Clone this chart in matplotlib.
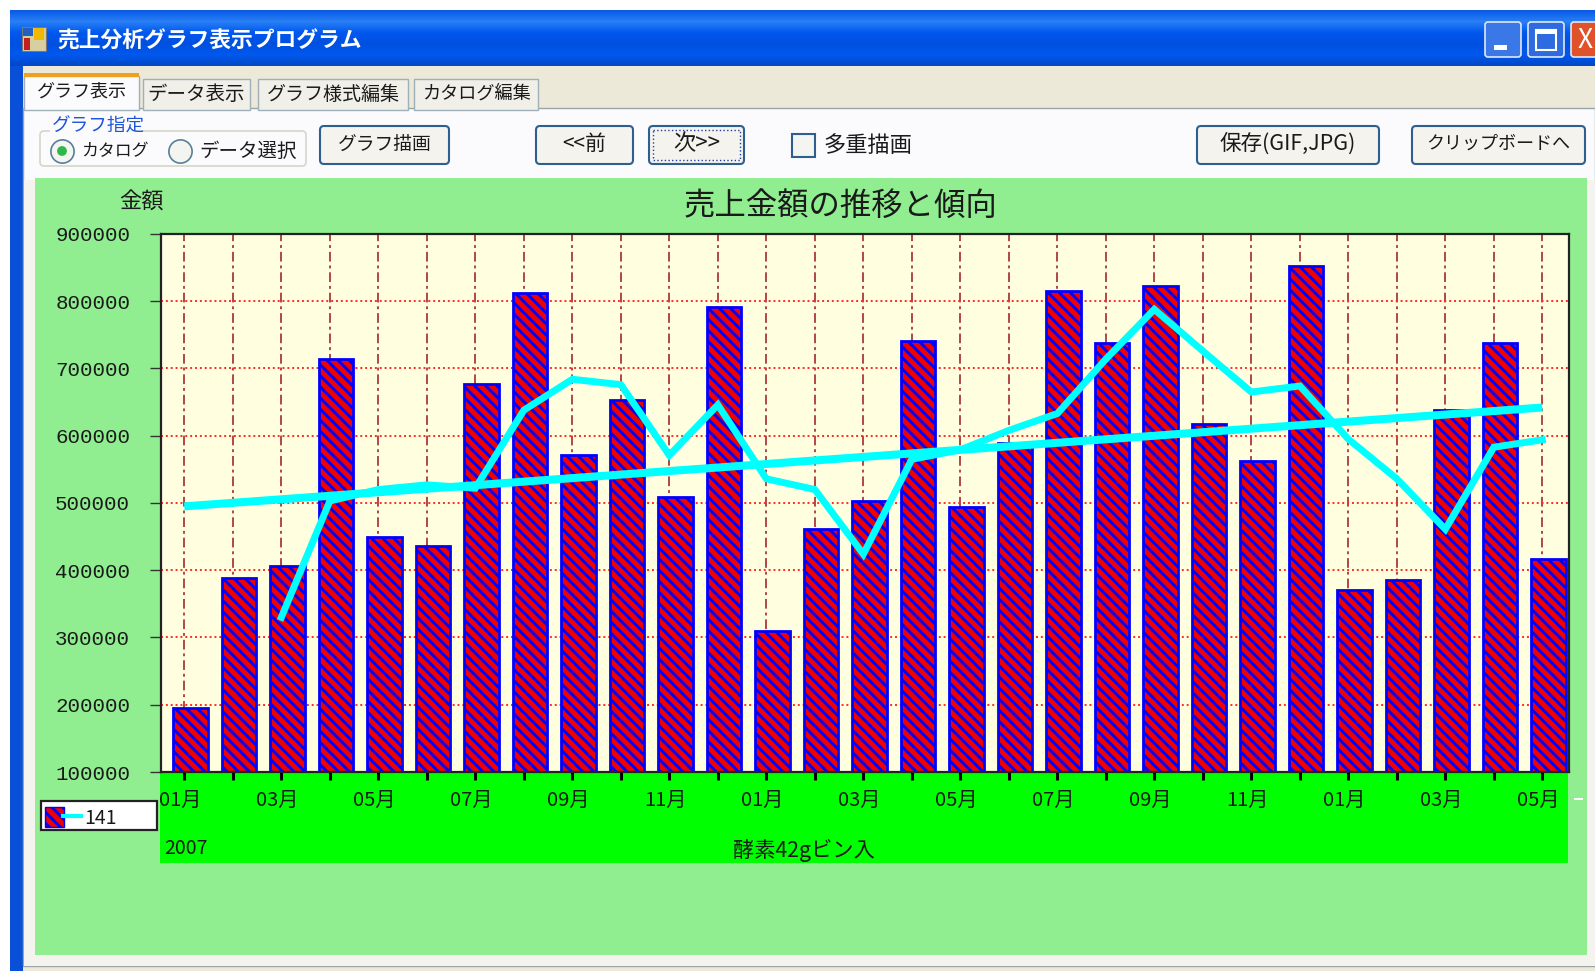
#!/usr/bin/env python3
"""Sales analysis window: monthly bars with moving average and trend line."""

import matplotlib

matplotlib.use("Agg")

import matplotlib.pyplot as plt
from matplotlib.colors import LinearSegmentedColormap
from matplotlib.patches import FancyBboxPatch, Rectangle
from matplotlib.transforms import ScaledTranslation
import numpy as np

plt.rcParams["font.family"] = ["Noto Sans CJK JP", "DejaVu Sans"]
plt.rcParams["hatch.linewidth"] = 2.1

MONTHS = list(range(29))
SALES = [
    195000, 388000, 406000, 714000, 450000, 436000, 677000, 812000, 571000, 653000,
    509000, 791000, 309000, 461000, 503000, 741000, 494000, 589000, 815000, 738000,
    823000, 618000, 562000, 853000, 370000, 385000, 638000, 738000, 417000,
]
AVG_MONTHS = MONTHS[2:]
MOVING_AVG = [
    330000, 503000, 520000, 527000, 522000, 638000, 684000, 676000, 571000, 646000,
    536000, 520000, 424000, 565000, 579000, 608000, 633000, 714000, 788000, 726000,
    665000, 674000, 595000, 536000, 461000, 583000, 594000,
]
TREND_X = [0, 28]
TREND_Y = [495000, 642000]
Y_TICKS = [100000, 200000, 300000, 400000, 500000, 600000, 700000, 800000, 900000]
MONTH_LABELS = ["01月", "03月", "05月", "07月", "09月", "11月", "01月", "03月", "05月", "07月",
                "09月", "11月", "01月", "03月", "05月"]
TABS = ["グラフ表示", "データ表示", "グラフ様式編集", "カタログ編集"]
TAB_SIZES = [13, 14, 13.7, 13.1]

W, H = 1595, 971
BAR_SHIFT = 0.128
BAR_HATCH = "\\\\\\"
TEXT = "#1a1a1a"


def px_axes(fig, left, top, right, bottom):
    return fig.add_axes([left / W, 1 - bottom / H, (right - left) / W, (bottom - top) / H])


def button(bg, x0, y0, x1, y1, label, size=13.5):
    bg.add_patch(FancyBboxPatch((x0 + 4, y0 + 4), x1 - x0 - 8, y1 - y0 - 8, boxstyle="round,pad=4",
                                fc="#f4f3ee", ec="#2f5f8f", lw=1.5))
    bg.text((x0 + x1) / 2, (y0 + y1) / 2 - 1, label, ha="center", va="center", fontsize=size, color=TEXT)


def draw_window(bg):
    # window frame and title bar
    cmap = LinearSegmentedColormap.from_list(
        "xp", ["#0a5ae6", "#2a80f5", "#0058ee", "#0050e0", "#0058ee", "#0048c8"])
    grad = np.linspace(0, 1, 56).reshape(-1, 1)
    bg.imshow(grad, cmap=cmap, extent=(10, W, 66, 10), aspect="auto", zorder=0)
    bg.set_xlim(0, W)
    bg.set_ylim(H, 0)
    bg.axis("off")

    bg.add_patch(Rectangle((10, 66), 13, H - 66, fc="#0a4fd8", ec="none"))
    bg.add_patch(Rectangle((23, 66), W - 23, H - 66, fc="#ece9d8", ec="none"))
    bg.add_patch(Rectangle((23, 108), W - 23, H - 108 - 5, fc="#fbfbfd", ec="#9aa5aa", lw=1))
    bg.add_patch(Rectangle((24, 180), W - 24, H - 185, fc="#f4f3ee", ec="none"))
    bg.add_patch(Rectangle((35, 178), 1552, 777, fc="#90ee90", ec="none", zorder=1))

    # title bar icon, text and window buttons
    bg.add_patch(Rectangle((22, 27), 24, 24, fc="#d8cfa0", ec="#777777", lw=0.8))
    bg.add_patch(Rectangle((23, 28), 10, 8, fc="#2060c0", ec="none"))
    bg.add_patch(Rectangle((34, 28), 10, 12, fc="#f0b800", ec="none"))
    bg.add_patch(Rectangle((24, 38), 6, 12, fc="#c02020", ec="none"))
    bg.text(57, 41, "売上分析グラフ表示プログラム", color="white", fontsize=15.7, weight="bold", va="center")
    for x0, col in [(1485, "#3a78e8"), (1528, "#2f6be0"), (1571, "#e0532a")]:
        bg.add_patch(FancyBboxPatch((x0 + 3, 25), 30, 29, boxstyle="round,pad=3", fc=col, ec="#dfe8f5", lw=1.2))
    bg.add_patch(Rectangle((1494, 45), 13, 5, fc="white", ec="none"))
    bg.add_patch(Rectangle((1536, 30), 20, 20, fc="none", ec="white", lw=1.5))
    bg.add_patch(Rectangle((1536, 30), 20, 4, fc="white", ec="none"))
    bg.text(1585, 41, "X", color="white", fontsize=19, ha="center", va="center")

    # tabs
    tab_edges = [(24, 139), (143, 250), (258, 408), (414, 538)]
    for i, (label, (x0, x1)) in enumerate(zip(TABS, tab_edges)):
        top = 76 if i == 0 else 79
        fc = "#fbfbfd" if i == 0 else "#f0efe8"
        bg.add_patch(Rectangle((x0, top), x1 - x0, 110 - top, fc=fc, ec="#9fb0bb", lw=1, zorder=2))
        bg.text((x0 + x1) / 2, 92 if i == 0 else 94, label, ha="center", va="center",
                fontsize=TAB_SIZES[i], color=TEXT, zorder=3)
    bg.add_patch(Rectangle((24, 73), 115, 4, fc="#f0a020", ec="none", zorder=3))

    # graph selection group
    bg.add_patch(FancyBboxPatch((44, 135), 258, 27, boxstyle="round,pad=4", fc="#fbfbfd", ec="#d5d5c8", lw=1.2))
    bg.add_patch(Rectangle((50, 120), 92, 14, fc="#fbfbfd", ec="none", zorder=2))
    bg.text(52, 127, "グラフ指定", color="#1f55d8", fontsize=13.4, va="center", zorder=3)
    for cx, on in [(62, True), (180, False)]:
        bg.scatter([cx], [151], s=280, fc="#f4f4f0", ec="#5a8098", lw=1.2, zorder=3)
        if on:
            bg.scatter([cx], [151], s=50, fc="#2fb84a", ec="none", zorder=4)
    bg.text(81, 151, "カタログ", fontsize=12.2, va="center", color=TEXT)
    bg.text(199, 151, "データ選択", fontsize=14, va="center", color=TEXT)

    button(bg, 320, 126, 449, 164, "グラフ描画")
    button(bg, 536, 126, 633, 164, "<<前", size=15)
    button(bg, 649, 126, 744, 164, "次>>", size=16)
    bg.add_patch(Rectangle((653, 130), 87, 30, fc="none", ec="#2040a0", lw=1, ls=":", zorder=3))
    bg.add_patch(Rectangle((792, 134), 23, 23, fc="#f4f4f0", ec="#2f5f8f", lw=1.5))
    bg.text(824, 145, "多重描画", fontsize=16, va="center", color=TEXT)
    button(bg, 1197, 126, 1379, 164, "保存(GIF,JPG)", size=15.5)
    button(bg, 1412, 126, 1585, 164, "クリップボードへ", size=13)

    # chart captions
    bg.add_patch(Rectangle((160, 772), 1408, 91, fc="#00ff00", ec="none", zorder=1))
    bg.add_patch(Rectangle((1574, 798), 9, 2, fc="white", ec="none", zorder=1))
    bg.text(841, 206, "売上金額の推移と傾向", fontsize=22.6, ha="center", va="center", color=TEXT, zorder=3)
    bg.text(141, 202, "金額", fontsize=16, ha="center", va="center", color=TEXT, zorder=3)
    bg.text(164, 848, "2007", fontsize=14, va="center", color=TEXT, zorder=3)
    bg.text(804, 850, "酵素42gビン入", fontsize=15.3, ha="center", va="center", color=TEXT, zorder=3)

    # legend
    bg.add_patch(Rectangle((41, 801), 116, 29, fc="white", ec="#222222", lw=1.6, zorder=3))
    bg.add_patch(Rectangle((45, 807), 19, 20, fc="#f00000", ec="#0000ff", hatch=BAR_HATCH, lw=1, zorder=4))
    bg.plot([63, 81], [816, 816], color="#00ffff", lw=3, zorder=4)
    bg.text(101, 818, "141", fontsize=14, ha="center", va="center", color=TEXT, zorder=4)


def draw_chart(ax):
    ax.set_facecolor("#ffffe0")
    ax.bar([m + BAR_SHIFT for m in MONTHS], SALES, width=0.72, color="#f00000", edgecolor="#0000ff",
           hatch=BAR_HATCH, linewidth=2, zorder=2)
    ax.plot(TREND_X, TREND_Y, color="#00ffff", lw=5.8, solid_capstyle="butt", zorder=3)
    ax.plot(AVG_MONTHS, MOVING_AVG, color="#00ffff", lw=5, solid_joinstyle="miter", zorder=4)

    ax.set_xlim(-0.487, 28.55)
    ax.set_ylim(100000, 900000)
    ax.set_yticks(Y_TICKS)
    ax.set_yticklabels([str(v) for v in Y_TICKS], fontsize=15, color=TEXT, fontfamily="Liberation Mono")
    ax.set_xticks(MONTHS[::2], MONTH_LABELS)
    ax.set_xticks(MONTHS[1::2], minor=True)
    ax.tick_params(axis="x", which="both", length=6, width=2.2, pad=7, labelsize=14.5, color="black")
    ax.tick_params(axis="y", length=8, width=1, pad=14, color="#333333")
    ax.grid(axis="y", color="#ff2a2a", ls=(0, (1, 1.5)), lw=1.4, zorder=1)
    ax.grid(axis="x", which="both", color="#b04848", ls=(0, (5, 2, 1.5, 2)), lw=1.4, zorder=1)
    ax.set_axisbelow(True)
    shift = ScaledTranslation(-4 / 100, 0, ax.figure.dpi_scale_trans)
    for label in ax.get_xticklabels():
        label.set_transform(label.get_transform() + shift)
        label.set_color(TEXT)
    for spine in ax.spines.values():
        spine.set_color("#222222")
        spine.set_linewidth(1.6)
        spine.set_zorder(6)


def main():
    fig = plt.figure(figsize=(W / 100, H / 100), dpi=100, facecolor="white")
    draw_window(px_axes(fig, 0, 0, W, H))
    draw_chart(px_axes(fig, 160.7, 234, 1569, 772))
    fig.savefig("out.png", dpi=100)


if __name__ == "__main__":
    main()
